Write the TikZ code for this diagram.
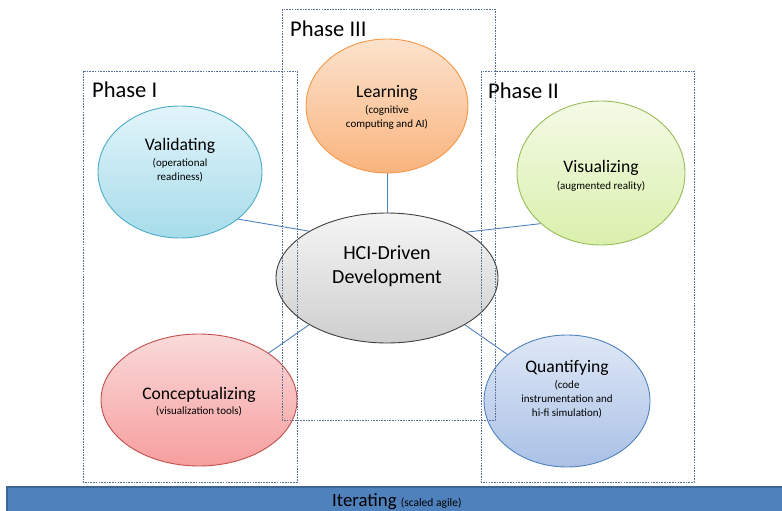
\documentclass[tikz,border=0pt]{standalone}
\usepackage{fontspec}
\setmainfont{Carlito}
\usetikzlibrary{shapes.geometric,backgrounds}
\definecolor{linkblue}{HTML}{4F81BD}
\definecolor{phaseline}{HTML}{5A6F95}
\definecolor{barfill}{HTML}{4F81BD}
\definecolor{bardraw}{HTML}{3E6596}
\tikzset{
  x=1pt, y=-1pt,
  bubble/.style={ellipse, line width=0.9pt, inner sep=0pt},
  phasebox/.style={draw=phaseline, line width=0.9pt, dash pattern=on 1.6pt off 1.1pt},
  link/.style={draw=linkblue, line width=0.9pt},
  title/.style={font=\fontsize{17.6}{20}\selectfont, inner sep=0pt},
  sub/.style={font=\fontsize{11}{13.8}\selectfont, inner sep=0pt, align=center},
  phasetitle/.style={font=\fontsize{22.5}{26}\selectfont, anchor=west, inner sep=0pt},
}
\begin{document}
\begin{tikzpicture}
\useasboundingbox (0,0) rectangle (782,511);

% bubbles
\node[bubble, minimum width=222pt, minimum height=130pt, draw=black!75,
  top color=gray!8, bottom color=gray!38] (hci) at (387,278) {};
\node[bubble, minimum width=164pt, minimum height=132pt,
  draw={rgb,255:red,75;green,172;blue,198},
  top color={rgb,255:red,226;green,244;blue,250},
  bottom color={rgb,255:red,166;green,220;blue,234}] (val) at (180,172) {};
\node[bubble, minimum width=162pt, minimum height=134pt,
  draw={rgb,255:red,247;green,150;blue,70},
  top color={rgb,255:red,252;green,226;blue,204},
  bottom color={rgb,255:red,249;green,180;blue,126}] (lrn) at (387,106) {};
\node[bubble, minimum width=168pt, minimum height=144pt,
  draw={rgb,255:red,155;green,187;blue,89},
  top color={rgb,255:red,244;green,250;blue,230},
  bottom color={rgb,255:red,218;green,240;blue,172}] (vis) at (601,173) {};
\node[bubble, minimum width=196pt, minimum height=132pt,
  draw={rgb,255:red,192;green,80;blue,77},
  top color={rgb,255:red,250;green,218;blue,218},
  bottom color={rgb,255:red,247;green,158;blue,158}] (con) at (199,400) {};
\node[bubble, minimum width=166pt, minimum height=132pt,
  draw={rgb,255:red,79;green,129;blue,189},
  top color={rgb,255:red,222;green,231;blue,246},
  bottom color={rgb,255:red,170;green,193;blue,230}] (qnt) at (567,401) {};

% connectors between bubble borders, behind the bubbles
\begin{scope}[on background layer]
\draw[link] (val.-39.5) -- (hci.149.7);
\draw[link] (lrn.south) -- (hci.north);
\draw[link] (vis.220.4) -- (hci.30);
\draw[link] (con.34.3) -- (hci.211.3);
\draw[link] (qnt.142) -- (hci.-31);
\end{scope}

% bubble texts
\node[font=\fontsize{20}{24}\selectfont, align=center, inner sep=0pt] (hcit) at (387,266) {HCI-Driven\\Development};

\node[title] (valt) at (180,146) {Validating};
\node[sub] (vals) at (180,170) {(operational\\readiness)};

\node[title] (lrnt) at (387,93) {Learning};
\node[sub] (lrns) at (387,117.5) {(cognitive\\computing and AI)};

\node[title] (vist) at (601,168) {Visualizing};
\node[sub] (viss) at (601,186) {(augmented reality)};

\node[title] (cont) at (199,395) {Conceptualizing};
\node[sub] (cons) at (199,411) {(visualization tools)};

\node[title] (qntt) at (567,368) {Quantifying};
\node[sub] (qnts) at (567,399) {(code\\instrumentation and\\hi-fi simulation)};

% phase frames, drawn over the bubbles
\draw[phasebox] (83,71) rectangle (297,482);
\draw[phasebox] (282,9) rectangle (495,420);
\draw[phasebox] (481,71) rectangle (694,482);

\node[phasetitle] (p1) at (92,90) {Phase I};
\node[phasetitle] (p3) at (290,29) {Phase III};
\node[phasetitle] (p2) at (488,91) {Phase II};

% iteration bar
\draw[fill=barfill, draw=bardraw, line width=1.5pt] (7,487) rectangle (790,520);
\node[inner sep=0pt, anchor=base west] (iter) at (332,506) {\fontsize{18.8}{22}\selectfont Iterating \fontsize{11.5}{13}\selectfont(scaled agile)};
\end{tikzpicture}
\end{document}
